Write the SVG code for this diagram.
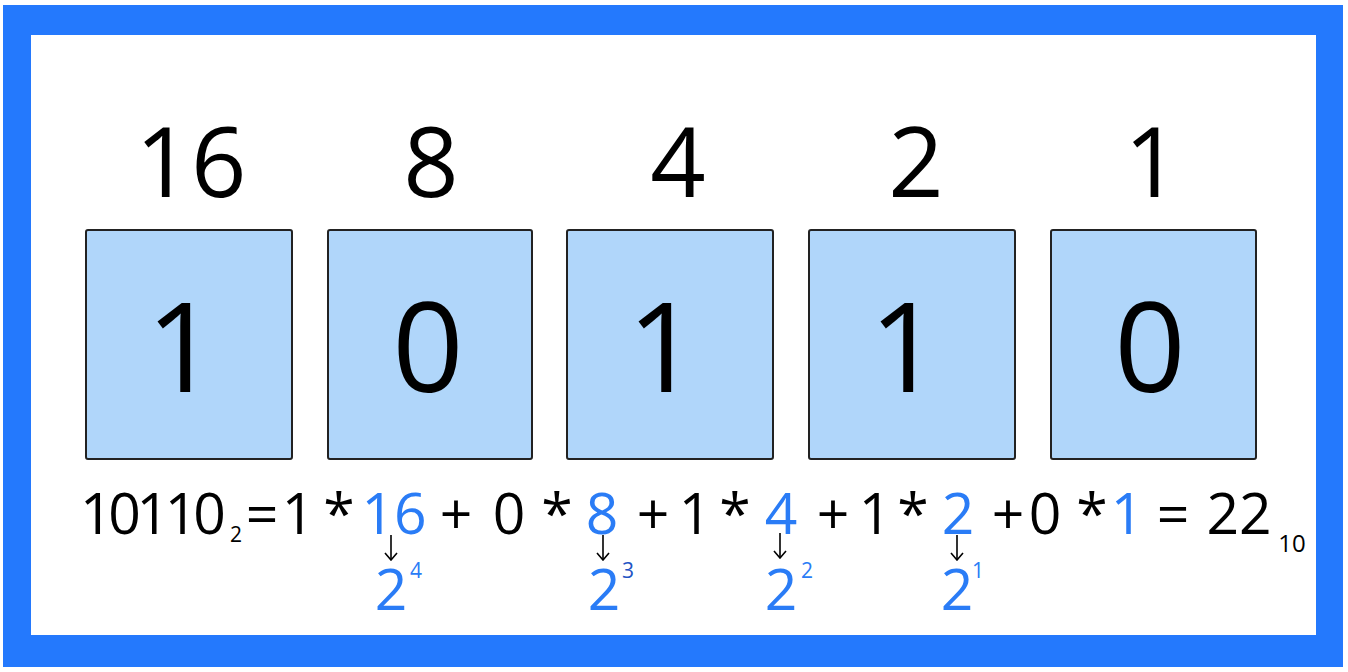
<svg xmlns="http://www.w3.org/2000/svg" width="1348" height="672" viewBox="0 0 1348 672">
<style>
text{font-family:"Open Sans","Noto Sans","Liberation Sans",sans-serif;font-weight:400;text-anchor:middle;fill:#000}
.top{font-size:97px}
.bit{font-size:125px}
.eq{font-size:57px}
.b{fill:#2a7cf6}
.sub{font-size:21px}
.box{fill:#b0d6fa;stroke:#222;stroke-width:2}
.arr{stroke:#000;stroke-width:1.6;fill:none}
</style>
<defs>
<marker id="ah" viewBox="0 0 10 14" refX="9" refY="7" markerWidth="10" markerHeight="14" markerUnits="userSpaceOnUse" orient="auto">
<path d="M2,1 L9,7 L2,13" fill="none" stroke="#000" stroke-width="1.6"/>
</marker>
</defs>
<rect width="1348" height="672" fill="#fff"/>
<path id="frame" d="M3,5 H1343 V667 H3 Z M31,35 V635 H1316 V35 Z" fill="#2479fd" fill-rule="evenodd"/>

<g id="node-16"><text class="top" x="191" y="197">16</text><rect class="box" x="86" y="230" width="206" height="229" rx="2"/><text class="bit" x="182" y="392">1</text></g>
<g id="node-8"><text class="top" x="431" y="197">8</text><rect class="box" x="328" y="230" width="204" height="229" rx="2"/><text class="bit" x="428" y="392">0</text></g>
<g id="node-4"><text class="top" x="678" y="197">4</text><rect class="box" x="567" y="230" width="206" height="229" rx="2"/><text class="bit" x="663" y="392">1</text></g>
<g id="node-2"><text class="top" x="916" y="197">2</text><rect class="box" x="809" y="230" width="206" height="229" rx="2"/><text class="bit" x="905" y="392">1</text></g>
<g id="node-1"><text class="top" x="1152" y="197">1</text><rect class="box" x="1051" y="230" width="205" height="229" rx="2"/><text class="bit" x="1150" y="392">0</text></g>

<g id="equation">
<text class="eq" x="80" y="534" style="text-anchor:start;letter-spacing:-4.3px">10110</text>
<text class="sub" x="236" y="542">2</text>
<text class="eq" x="262" y="534">=</text>
<text class="eq" x="298" y="534">1</text>
<text class="eq" x="339" y="534">*</text>
<text class="eq b" x="394" y="534">16</text>
<text class="eq" x="456" y="534">+</text>
<text class="eq" x="509" y="534">0</text>
<text class="eq" x="557" y="534">*</text>
<text class="eq b" x="602" y="534">8</text>
<text class="eq" x="653" y="534">+</text>
<text class="eq" x="695" y="534">1</text>
<text class="eq" x="735" y="534">*</text>
<text class="eq b" x="781" y="534">4</text>
<text class="eq" x="833" y="534">+</text>
<text class="eq" x="875" y="534">1</text>
<text class="eq" x="913" y="534">*</text>
<text class="eq b" x="958" y="534">2</text>
<text class="eq" x="1008" y="534">+</text>
<text class="eq" x="1045" y="534">0</text>
<text class="eq" x="1092" y="534">*</text>
<text class="eq b" x="1127" y="534">1</text>
<text class="eq" x="1173" y="534">=</text>
<text class="eq" x="1239" y="534">22</text>
<text class="sub" x="1292" y="552" style="font-size:24px">10</text>
</g>

<g id="powers">
<text class="eq b" x="391" y="610">2</text><text class="sub b" x="416" y="578">4</text>
<text class="eq b" x="604" y="610">2</text><text class="sub" x="628" y="578" style="fill:#1f54c4">3</text>
<text class="eq b" x="781" y="610">2</text><text class="sub b" x="807" y="578">2</text>
<text class="eq b" x="957" y="610">2</text><text class="sub b" x="978" y="578">1</text>
</g>

<g id="connectors">
<line class="arr" x1="391" y1="535" x2="391" y2="560" marker-end="url(#ah)"/>
<line class="arr" x1="603" y1="535" x2="603" y2="560" marker-end="url(#ah)"/>
<line class="arr" x1="780" y1="533" x2="780" y2="558" marker-end="url(#ah)"/>
<line class="arr" x1="957" y1="535" x2="957" y2="560" marker-end="url(#ah)"/>
</g>
</svg>
